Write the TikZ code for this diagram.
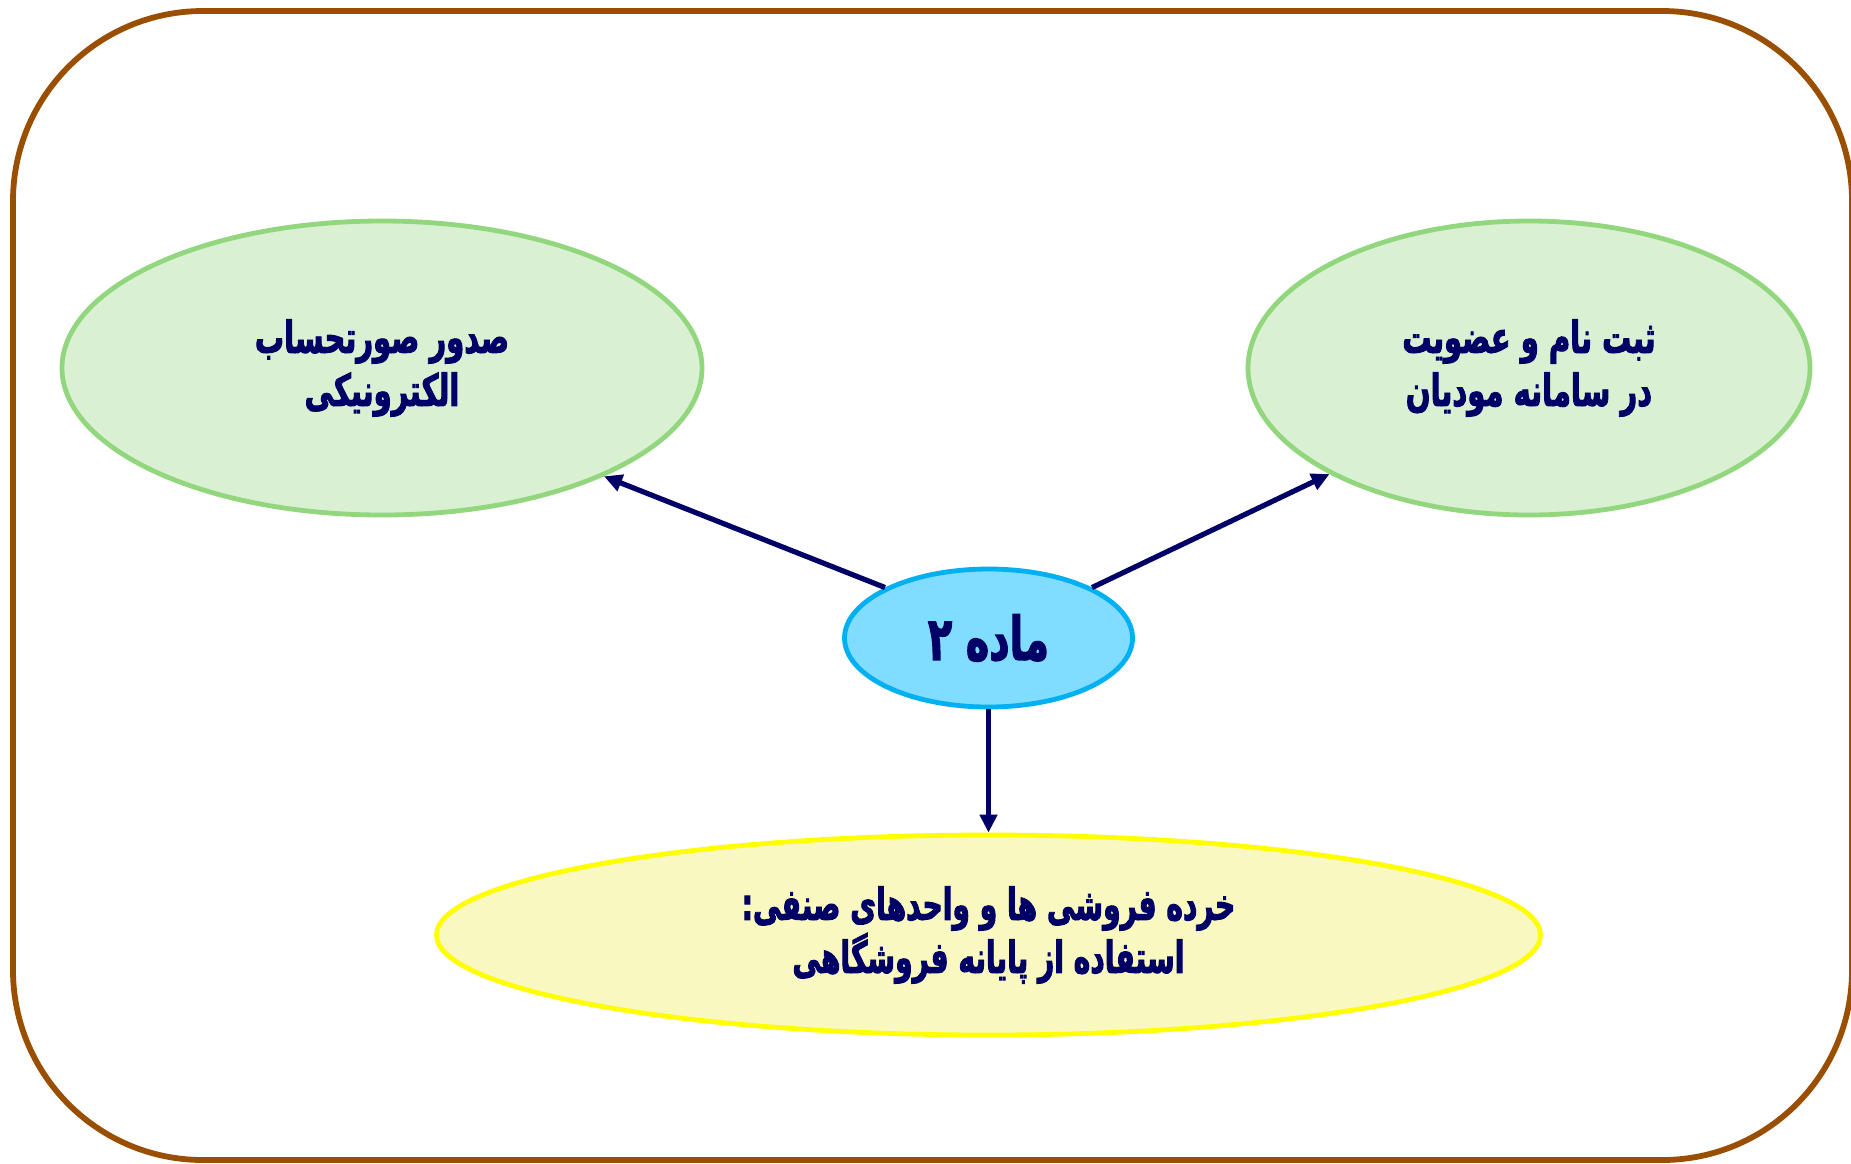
\documentclass[tikz,border=0pt]{standalone}
\usepackage{fontspec}
\TeXXeTstate=1
\newfontfamily\arabicfont[Script=Arabic, FakeStretch=0.66, FakeBold=2]{DejaVu Sans}
\newfontfamily\arabicfontw[Script=Arabic, FakeStretch=0.64, FakeBold=2]{DejaVu Sans}
\usetikzlibrary{shapes.geometric,arrows.meta}
\definecolor{navy}{RGB}{0,0,102}
\definecolor{frame}{RGB}{153,78,0}
\definecolor{gfill}{RGB}{218,240,211}
\definecolor{gline}{RGB}{146,214,126}
\definecolor{bfill}{RGB}{128,221,255}
\definecolor{bline}{RGB}{0,176,240}
\definecolor{yfill}{RGB}{248,248,192}
\definecolor{yline}{RGB}{255,255,0}
\tikzset{
  bubble/.style={ellipse, inner sep=0pt, line width=2.4pt, text=navy,
    font=\arabicfont\bfseries\fontsize{22}{26.5}\selectfont, align=center},
  greenbubble/.style={bubble, draw=gline, fill=gfill},
  link/.style={draw=navy, line width=2.6pt, -{Triangle[length=9pt,width=8.5pt]}}
}
\begin{document}
\begin{tikzpicture}[x=0.5pt,y=-0.5pt]
\useasboundingbox (0,0) rectangle (1851,1163);
\draw[frame, line width=2.9pt, rounded corners=95pt] (13,11) rectangle (1852,1160);
\node[greenbubble, minimum width=320pt, minimum height=147pt] (left) at (382,368)
  {\beginR صدور صورتحساب\endR\\\beginR الکترونیکی\endR};
\node[greenbubble, minimum width=281pt, minimum height=147pt] (right) at (1529,368)
  {\beginR ثبت نام و عضویت\endR\\\beginR در سامانه مودیان\endR};
\node[bubble, draw=bline, fill=bfill, minimum width=144pt, minimum height=69pt,
  font=\arabicfont\bfseries\fontsize{30}{34}\selectfont] (mid) at (988.5,638)
  {\beginR ماده ۲\endR};
\node[bubble, draw=yline, fill=yfill, minimum width=552pt, minimum height=100pt,
  font=\arabicfontw\bfseries\fontsize{22}{26.5}\selectfont] (bottom) at (988.5,935)
  {\beginR خرده فروشی ها و واحدهای صنفی:\endR\\\beginR استفاده از پایانه فروشگاهی\endR};
\draw[link] (mid.154) -- (left.334.6);
\draw[link] (mid.26) -- (right.208.5);
\draw[link] (mid.south) -- (bottom.north);
\end{tikzpicture}
\end{document}
